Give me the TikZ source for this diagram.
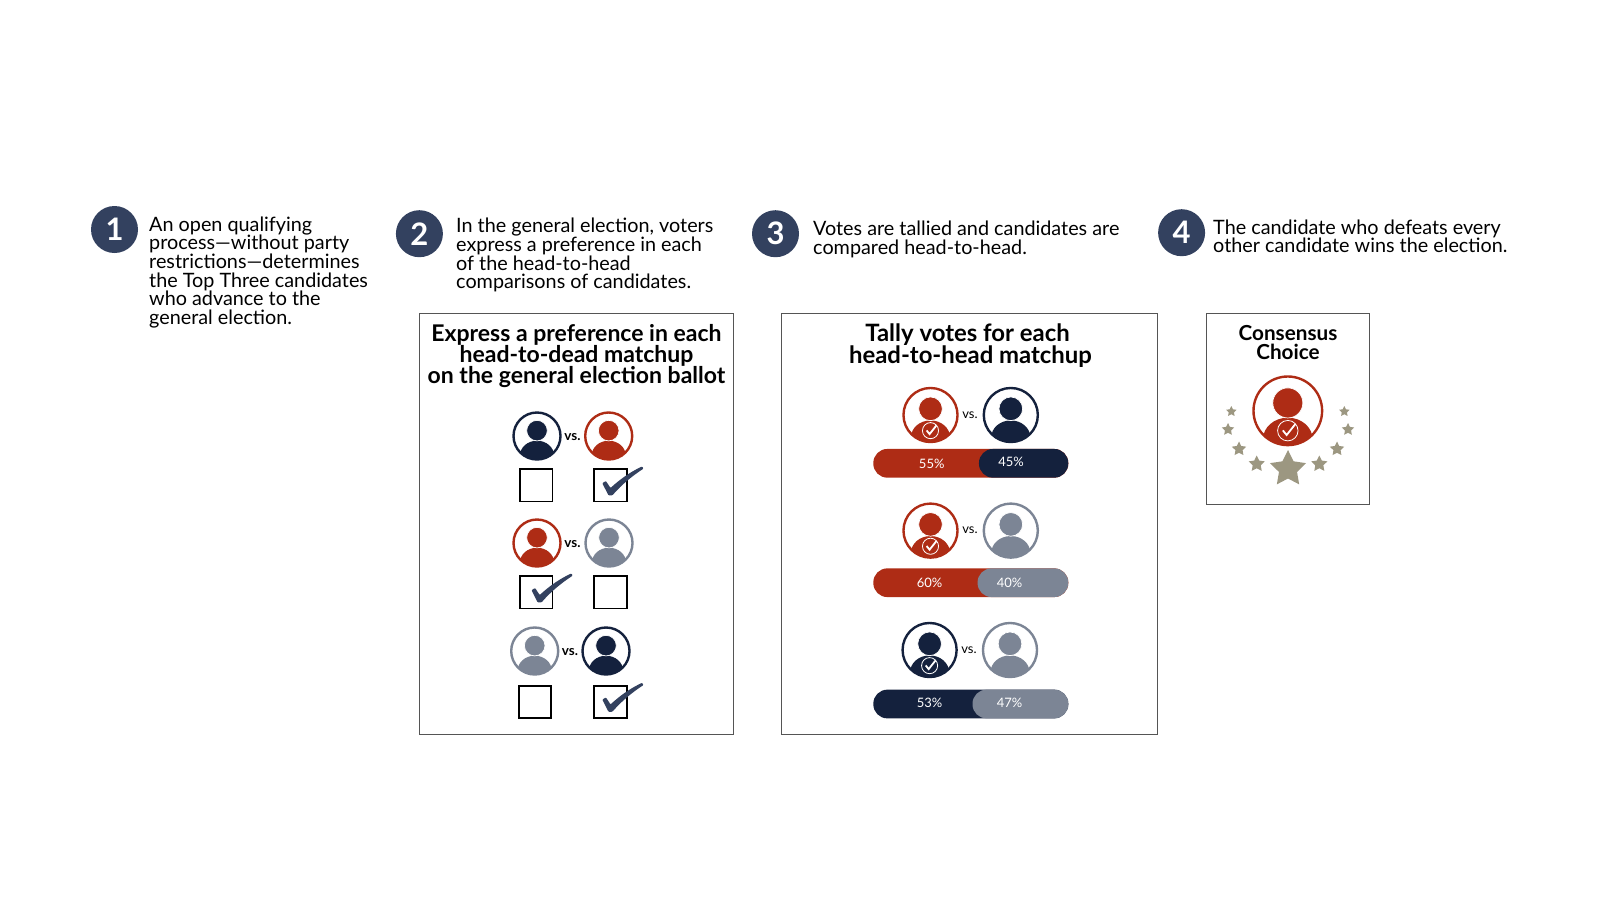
\documentclass[tikz,border=0pt]{standalone}
\usepackage{fontspec}
\setmainfont{Lato}
\usetikzlibrary{shapes.geometric}
\definecolor{cnavy}{HTML}{14213D}
\definecolor{cred}{HTML}{AE2C15}
\definecolor{cgray}{HTML}{7C8595}
\definecolor{cslate}{HTML}{33415F}
\definecolor{cstar}{HTML}{9C9781}
\definecolor{cline}{HTML}{555555}
\newcommand{\votershape}[1]{
  \begin{scope}
    \clip (0,0) circle (23.5);
    \fill[#1] (0,19.5) ellipse (17 and 14.8);
  \end{scope}
  \draw[#1, line width=2.4pt] (0,0) circle (23.5);
  \draw[white, fill=#1, line width=.7pt] (0,-5.4) circle (10.3);
}
\tikzset{
  numdot/.style={circle, fill=cslate, minimum size=47pt, inner sep=0pt, text=white, font=\fontsize{31}{31}\selectfont\bfseries},
  steptext/.style={anchor=west, align=left, inner sep=0pt, font=\fontsize{19.8}{18.7}\selectfont},
  panel/.style={draw=cline, line width=1pt, fill=white, anchor=north west, inner sep=0pt},
  headline/.style={align=center, inner sep=0pt, font=\fontsize{23}{21.4}\selectfont\bfseries},
  vsbold/.style={inner sep=0pt, font=\fontsize{13.5}{13}\selectfont\bfseries},
  vsplain/.style={inner sep=0pt, font=\fontsize{13}{13}\selectfont},
  votebox/.style={draw=black, line width=1.8pt, minimum size=32.5pt, inner sep=0pt},
  barpart/.style={rounded corners=14pt, minimum height=28.7pt, inner sep=0pt},
  pct/.style={inner sep=0pt, text=white, font=\fontsize{13}{13}\selectfont},
  award/.style={star, star points=5, star point ratio=2, fill=cstar, inner sep=0pt},
  pics/voter/.style={code={\votershape{#1}}},
  pics/winner/.style={code={
    \votershape{#1}
    \draw[white, line width=.8pt] (0,13.6) circle (7);
    \draw[white, line width=1.8pt] (-3.4,13.4) -- (-.8,16.6) -- (5.2,9);
  }},
  pics/tick/.style={code={
    \fill[cslate, rounded corners=.8pt] (8,14.2) -- (11.6,12) -- (16.2,19) .. controls (26,10) and (36,3) .. (47.8,-2.6) -- (49.2,-.4) .. controls (38,7) and (28,15) .. (18,26.4) -- (14.2,26.4) -- cycle;
  }}
}
\begin{document}
\begin{tikzpicture}[x=1pt, y=-1pt]
\useasboundingbox (0,0) rectangle (1600,900);

% steps
\node[numdot] (na) at (114.5,229.5) {1};
\node[numdot] (nb) at (419.4,233.7) {2};
\node[numdot] (nc) at (775.5,233.7) {3};
\node[numdot] (nd) at (1181.6,232.7) {4};

\node[steptext] (ta) at (149,272.4) {An open qualifying\\process—without party\\restrictions—determines\\the Top Three candidates\\who advance to the\\general election.};
\node[steptext] (tb) at (456,255.3) {In the general election, voters\\express a preference in each\\of the head-to-head\\comparisons of candidates.};
\node[steptext] (tc) at (813,239.3) {Votes are tallied and candidates are\\compared head-to-head.};
\node[steptext] (td) at (1213,236.2) {The candidate who defeats every\\other candidate wins the election.};

% ballot
\node[panel, minimum width=314pt, minimum height=420.5pt] (pa) at (419.3,313.2) {};
\node[headline] (ha) at (576.5,356) {Express a preference in each\\head-to-dead matchup\hspace*{8pt}\\on the general election ballot};

\pic (aa) at (537,436) {voter=cnavy};
\node[vsbold] (va) at (572.5,437) {vs.};
\pic (ab) at (608.7,436) {voter=cred};
\node[votebox] (ba) at (536.3,485.3) {};
\node[votebox] (bb) at (610.5,485.3) {};
\pic (ka) at (594.3,469) {tick};

\pic (ac) at (537,543) {voter=cred};
\node[vsbold] (vb) at (572.5,544) {vs.};
\pic (ad) at (609,543) {voter=cgray};
\node[votebox] (bc) at (536.2,592.3) {};
\node[votebox] (bd) at (610.4,592.3) {};
\pic (kb) at (523.5,576) {tick};

\pic (ae) at (534.7,651) {voter=cgray};
\node[vsbold] (vc) at (570,652) {vs.};
\pic (af) at (606,651) {voter=cnavy};
\node[votebox] (be) at (535,702) {};
\node[votebox] (bf) at (610.4,702) {};
\pic (kc) at (594.3,685.4) {tick};

% tally
\node[panel, minimum width=376pt, minimum height=420.5pt] (pb) at (781.2,313.2) {};
\node[headline, font=\fontsize{23.9}{22.4}\selectfont\bfseries] (hb) at (969,345.5) {Tally votes for each\hspace*{3pt}\\\hspace*{3pt}head-to-head matchup};

\pic[scale=1.15] (ca) at (930.5,415) {winner=cred};
\node[vsplain] (wa) at (970,415) {vs.};
\pic[scale=1.15] (cb) at (1010.8,415) {voter=cnavy};
\node[barpart, fill=cred, minimum width=195pt] (ra) at (970.8,463.3) {};
\node[barpart, fill=cnavy, minimum width=89.3pt] (sa) at (1023.6,463.3) {};
\node[pct] (ya) at (931.7,464) {55\%};
\node[pct] (za) at (1011,461.5) {45\%};

\pic[scale=1.15] (cc) at (930.5,530.6) {winner=cred};
\node[vsplain] (wb) at (970,530.6) {vs.};
\pic[scale=1.15] (cd) at (1010.8,530.6) {voter=cgray};
\node[barpart, fill=cred, minimum width=195pt] (rb) at (970.8,582.7) {};
\node[barpart, fill=cgray, minimum width=90.7pt] (sb) at (1022.9,582.7) {};
\node[pct] (yb) at (929.6,582.7) {60\%};
\node[pct] (zb) at (1009.5,582.7) {40\%};

\pic[scale=1.15] (ce) at (929.6,650) {winner=cnavy};
\node[vsplain] (wc) at (969,650) {vs.};
\pic[scale=1.15] (cf) at (1010,650) {voter=cgray};
\node[barpart, fill=cnavy, minimum width=195pt] (rc) at (970.8,704) {};
\node[barpart, fill=cgray, minimum width=95.8pt] (sc) at (1020.4,704) {};
\node[pct] (yc) at (929.6,703) {53\%};
\node[pct] (zc) at (1009.5,703) {47\%};

% result
\node[panel, minimum width=162.8pt, minimum height=191pt] (pc) at (1206.4,313.2) {};
\node[headline, font=\fontsize{20.7}{19.3}\selectfont\bfseries] (hc) at (1288,342.5) {Consensus\\Choice};
\pic[scale=1.46] (cg) at (1287.8,410.8) {winner=cred};

\node[award, minimum size=38pt] (sa0) at (1288,469) {};
\node[award, minimum size=17pt] (sb1) at (1256.7,464) {};
\node[award, minimum size=17pt] (sb2) at (1319.3,464) {};
\node[award, minimum size=15pt] (sc1) at (1239,449) {};
\node[award, minimum size=15pt] (sc2) at (1337,449) {};
\node[award, minimum size=13pt] (sd1) at (1228,429.5) {};
\node[award, minimum size=13pt] (sd2) at (1348,429.5) {};
\node[award, minimum size=11pt] (se1) at (1231.3,411.5) {};
\node[award, minimum size=11pt] (se2) at (1344.3,411.5) {};

\end{tikzpicture}
\end{document}
